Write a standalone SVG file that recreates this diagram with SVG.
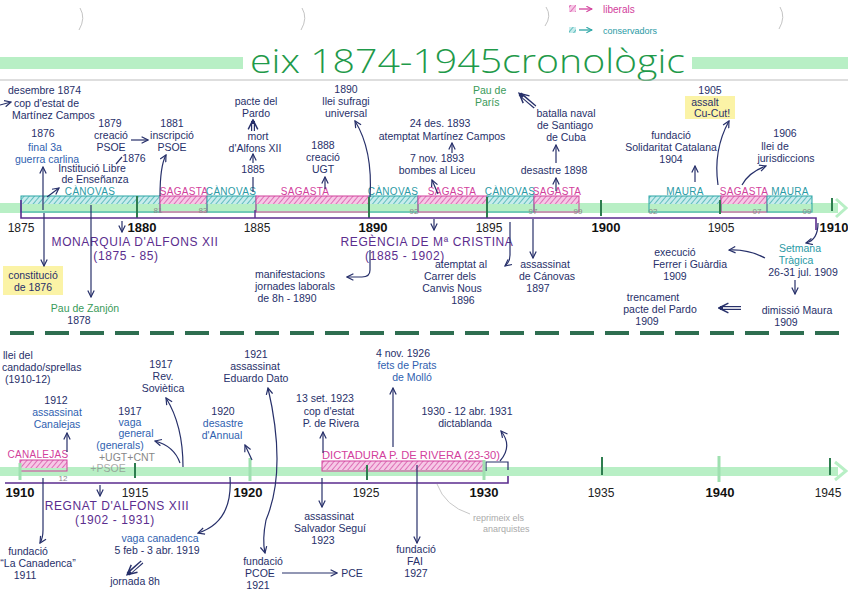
<svg xmlns="http://www.w3.org/2000/svg" width="848" height="599" viewBox="0 0 848 599">
<defs>
<style>
text{font-family:"Liberation Sans","DejaVu Sans",sans-serif;}
.n{font-size:10.5px;fill:#27306a}
.nc{font-size:10.5px;fill:#27306a;text-anchor:middle}
.yr{font-size:12px;fill:#222;text-anchor:middle}
.yb{font-size:13px;font-weight:bold;fill:#111;text-anchor:middle}
.pu{font-size:12px;fill:#5b2d8e;text-anchor:middle;letter-spacing:0.6px}
.pl{font-size:10px;text-anchor:middle;letter-spacing:0.3px}
.sm{font-size:8px;fill:#8a8a8a;text-anchor:middle}
.bl{fill:#2f5fb0}
.gr{fill:#3a9a5a}
.tl{fill:#2a9aa5}
.pk{fill:#d2409c}
.gy{fill:#888}
.c{fill:none;stroke:#27306a;stroke-width:1.2;marker-end:url(#a)}
.l{fill:none;stroke:#27306a;stroke-width:1.2}
.d{fill:none;stroke:#27306a;stroke-width:4;marker-end:url(#a2)}
.dw{fill:none;stroke:#fff;stroke-width:1.6}
.tk{stroke:#2e7d4f;stroke-width:2}
.tkl{stroke:#9fe0b0;stroke-width:3}
.ax{fill:none;stroke:#5b2d8e;stroke-width:1.6}
.band{fill:#b8efc5}
.bt{fill:none;stroke:#2aa5a5;stroke-width:1}
.bp{fill:none;stroke:#d2409c;stroke-width:1}
</style>
<pattern id="ht" width="4" height="4" patternUnits="userSpaceOnUse" patternTransform="rotate(40)"><rect width="4" height="4" fill="#c7ecec"/><line x1="0" y1="0" x2="0" y2="4" stroke="#2aa5a5" stroke-width="1.3"/></pattern>
<pattern id="hp" width="4" height="4" patternUnits="userSpaceOnUse" patternTransform="rotate(40)"><rect width="4" height="4" fill="#f6c8e6"/><line x1="0" y1="0" x2="0" y2="4" stroke="#d2409c" stroke-width="1.3"/></pattern>
<marker id="a" viewBox="0 0 10 10" refX="9" refY="5" markerWidth="8" markerHeight="8" markerUnits="userSpaceOnUse" orient="auto"><path d="M1,1 L9,5 L1,9" fill="none" stroke="#27306a" stroke-width="1.5"/></marker>
<marker id="a2" viewBox="0 0 10 10" refX="8" refY="5" markerWidth="12" markerHeight="12" markerUnits="userSpaceOnUse" orient="auto"><path d="M1,1 L9,5 L1,9" fill="none" stroke="#27306a" stroke-width="1.2"/></marker>
<marker id="ap" viewBox="0 0 10 10" refX="9" refY="5" markerWidth="7" markerHeight="7" markerUnits="userSpaceOnUse" orient="auto"><path d="M1,1 L9,5 L1,9" fill="none" stroke="#d2409c" stroke-width="1.5"/></marker>
<marker id="at" viewBox="0 0 10 10" refX="9" refY="5" markerWidth="7" markerHeight="7" markerUnits="userSpaceOnUse" orient="auto"><path d="M1,1 L9,5 L1,9" fill="none" stroke="#2aa5a5" stroke-width="1.5"/></marker>
</defs>

<rect width="848" height="599" fill="#fff"/>

<!-- punch hole marks -->
<g id="marks" fill="none" stroke="#c4c4c4" stroke-width="1">
<path d="M80,8 Q86,18 79,30"/><path d="M302,8 Q308,18 301,30"/><path d="M546,7 Q552,16 545,26"/><path d="M780,7 Q786,17 779,29"/>
</g>

<!-- legend -->
<g id="legend">
<rect x="569" y="5" width="7" height="7" fill="url(#hp)"/>
<path d="M579,9 L592,9" fill="none" stroke="#d2409c" stroke-width="1.3" marker-end="url(#ap)"/>
<text x="603" y="13" font-size="10" class="pk">liberals</text>
<rect x="569" y="27" width="7" height="6" fill="url(#ht)"/>
<path d="M579,30 L592,30" fill="none" stroke="#2aa5a5" stroke-width="1.3" marker-end="url(#at)"/>
<text x="603" y="34" font-size="9" class="tl">conservadors</text>
</g>

<!-- title -->
<g id="title">
<rect x="0" y="57" width="243" height="12" class="band"/>
<rect x="692" y="57" width="156" height="12" class="band"/>
<text x="250" y="73" font-size="33" fill="#1f9a4a" style="font-family:'Open Sans','Liberation Sans',sans-serif;font-weight:300" textLength="435" lengthAdjust="spacingAndGlyphs">eix 1874-1945cronològic</text>
<line x1="0" y1="80" x2="848" y2="80" stroke="#bdbdbd" stroke-width="1"/>
</g>

<!-- TOP TIMELINE -->
<g id="axis-top">
<rect x="0" y="203" width="838" height="10" class="band"/>
<path d="M836,199 L846,208 L836,217" fill="none" stroke="#b8efc5" stroke-width="3"/>
<rect x="21" y="196" width="139" height="8" fill="url(#ht)"/><rect x="21" y="196" width="139" height="16" class="bt"/>
<rect x="160" y="196" width="47" height="8" fill="url(#hp)"/><rect x="160" y="196" width="47" height="16" class="bp"/>
<rect x="207" y="196" width="49" height="8" fill="url(#ht)"/><rect x="207" y="196" width="49" height="16" class="bt"/>
<rect x="256" y="196" width="113" height="8" fill="url(#hp)"/><rect x="256" y="196" width="113" height="16" class="bp"/>
<rect x="369" y="196" width="49" height="8" fill="url(#ht)"/><rect x="369" y="196" width="49" height="16" class="bt"/>
<rect x="418" y="196" width="69" height="8" fill="url(#hp)"/><rect x="418" y="196" width="69" height="16" class="bp"/>
<rect x="487" y="196" width="47" height="8" fill="url(#ht)"/><rect x="487" y="196" width="47" height="16" class="bt"/>
<rect x="534" y="196" width="45" height="8" fill="url(#hp)"/><rect x="534" y="196" width="45" height="16" class="bp"/>
<rect x="649" y="196" width="72" height="8" fill="url(#ht)"/><rect x="649" y="196" width="72" height="16" class="bt"/>
<rect x="721" y="196" width="46" height="8" fill="url(#hp)"/><rect x="721" y="196" width="46" height="16" class="bp"/>
<rect x="767" y="196" width="45" height="8" fill="url(#ht)"/><rect x="767" y="196" width="45" height="16" class="bt"/>
<text x="90" y="195" class="pl tl">CÀNOVAS</text>
<text x="184" y="195" class="pl pk">SAGASTA</text>
<text x="231" y="195" class="pl tl">CÀNOVAS</text>
<text x="305" y="195" class="pl pk">SAGASTA</text>
<text x="393" y="195" class="pl tl">CÀNOVAS</text>
<text x="452" y="195" class="pl pk">SAGASTA</text>
<text x="510" y="195" class="pl tl">CÀNOVAS</text>
<text x="557" y="195" class="pl pk">SAGASTA</text>
<text x="685" y="195" class="pl tl">MAURA</text>
<text x="744" y="195" class="pl pk">SAGASTA</text>
<text x="790" y="195" class="pl tl">MAURA</text>
<text x="158" y="213" class="sm">81</text>
<text x="203" y="213" class="sm">83</text>
<text x="414" y="214" class="sm">92</text>
<text x="533" y="214" class="sm">97</text>
<text x="578" y="214" class="sm">99</text>
<text x="653" y="214" class="sm">02</text>
<text x="757" y="214" class="sm">07</text>
<text x="807" y="214" class="sm">09</text>
<line x1="137" y1="196" x2="137" y2="218" class="tk"/>
<line x1="369" y1="197" x2="369" y2="218" class="tk"/>
<line x1="487" y1="197" x2="487" y2="218" class="tk"/>
<line x1="601" y1="200" x2="601" y2="216" class="tk"/>
<line x1="720" y1="200" x2="720" y2="214" class="tk"/>
<line x1="832" y1="198" x2="832" y2="211" class="tk"/>
<path d="M21,200 L21,218 L816,218 L816,230" class="ax"/>
<line x1="255" y1="210" x2="255" y2="218" stroke="#5b2d8e" stroke-width="1.4"/>
<text x="21" y="232" class="yr">1875</text>
<text x="142" y="232" class="yb">1880</text>
<text x="257" y="232" class="yr">1885</text>
<text x="373" y="232" class="yb">1890</text>
<text x="489" y="232" class="yr">1895</text>
<text x="606" y="232" class="yb">1900</text>
<text x="721" y="232" class="yr">1905</text>
<text x="834" y="232" class="yb">1910</text>
<text x="135" y="246" class="pu">MONARQUIA D'ALFONS XII</text>
<text x="126" y="260" class="pu">(1875 - 85)</text>
<text x="427" y="246" class="pu">REGÈNCIA DE Mª CRISTINA</text>
<text x="405" y="260" class="pu">(1885 - 1902)</text>
</g>

<g id="e1874">
<text x="8" y="94" class="n">desembre 1874</text>
<text x="14" y="107" class="n">cop d'estat de</text>
<text x="12" y="119" class="n">Martínez Campos</text>
</g>
<g id="e1876-carlina">
<text x="43" y="137" class="nc">1876</text>
<text x="45" y="151" class="nc bl">final 3a</text>
<text x="47" y="163" class="nc bl">guerra carlina</text>
</g>
<g id="e1879">
<text x="110" y="127" class="nc">1879</text>
<text x="111" y="139" class="nc">creació</text>
<text x="111" y="151" class="nc">PSOE</text>
</g>
<g id="e1881">
<text x="172" y="127" class="nc">1881</text>
<text x="172" y="139" class="nc">inscripció</text>
<text x="172" y="151" class="nc">PSOE</text>
</g>
<g id="e1876-ile">
<text x="134" y="162" class="nc">1876</text>
<text x="92" y="172" class="nc">Institució Libre</text>
<text x="95" y="183" class="nc">de Enseñanza</text>
</g>
<g id="e1885">
<text x="256" y="105" class="nc">pacte del</text>
<text x="256" y="117" class="nc">Pardo</text>
<text x="258" y="140" class="nc">mort</text>
<text x="255" y="152" class="nc">d'Alfons XII</text>
<text x="253" y="173" class="nc">1885</text>
</g>
<g id="e1890">
<text x="346" y="93" class="nc">1890</text>
<text x="346" y="105" class="nc">llei sufragi</text>
<text x="346" y="117" class="nc">universal</text>
</g>
<g id="e1888">
<text x="323" y="149" class="nc">1888</text>
<text x="323" y="161" class="nc">creació</text>
<text x="323" y="173" class="nc">UGT</text>
</g>
<g id="e1893a">
<text x="440" y="127" class="nc">24 des. 1893</text>
<text x="442" y="140" class="nc">atemptat Martínez Campos</text>
</g>
<g id="e1893b">
<text x="437" y="162" class="nc">7 nov. 1893</text>
<text x="437" y="174" class="nc">bombes al Liceu</text>
</g>
<g id="e1898">
<text x="473" y="94" class="n gr">Pau de</text>
<text x="475" y="106" class="n gr">París</text>
<text x="566" y="117" class="nc">batalla naval</text>
<text x="565" y="129" class="nc">de Santiago</text>
<text x="566" y="141" class="nc">de Cuba</text>
<text x="554" y="174" class="nc">desastre 1898</text>
</g>
<g id="e1905">
<rect x="685" y="96" width="50" height="23" fill="#fbf3a6"/>
<text x="710" y="94" class="nc">1905</text>
<text x="705" y="106" class="nc">assalt</text>
<text x="712" y="117" class="nc">Cu-Cut!</text>
</g>
<g id="e1904">
<text x="671" y="139" class="nc">fundació</text>
<text x="671" y="151" class="nc">Solidaritat Catalana</text>
<text x="671" y="163" class="nc">1904</text>
</g>
<g id="e1906">
<text x="785" y="137" class="nc">1906</text>
<text x="775" y="150" class="nc">llei de</text>
<text x="786" y="162" class="nc">jurisdiccions</text>
</g>
<g id="e1876-const">
<rect x="3" y="266" width="60" height="29" fill="#fbf3a6"/>
<text x="33" y="279" class="nc">constitució</text>
<text x="33" y="291" class="nc">de 1876</text>
</g>
<g id="e1878">
<text x="85" y="312" class="nc gr">Pau de Zanjón</text>
<text x="79" y="324" class="nc">1878</text>
</g>
<g id="e1890-8h">
<text x="290" y="278" class="nc">manifestacions</text>
<text x="295" y="290" class="nc">jornades laborals</text>
<text x="287" y="302" class="nc">de 8h - 1890</text>
</g>
<g id="e1896">
<text x="461" y="268" class="nc">atemptat al</text>
<text x="450" y="280" class="nc">Carrer dels</text>
<text x="452" y="292" class="nc">Canvis Nous</text>
<text x="463" y="304" class="nc">1896</text>
</g>
<g id="e1897">
<text x="545" y="268" class="nc">assassinat</text>
<text x="547" y="280" class="nc">de Cánovas</text>
<text x="538" y="292" class="nc">1897</text>
</g>
<g id="e1909">
<text x="800" y="252" class="nc tl">Setmana</text>
<text x="796" y="264" class="nc tl">Tràgica</text>
<text x="803" y="276" class="nc">26-31 jul. 1909</text>
</g>
<g id="e1909-ferrer">
<text x="675" y="256" class="nc">execució</text>
<text x="690" y="268" class="nc">Ferrer i Guàrdia</text>
<text x="675" y="280" class="nc">1909</text>
</g>
<g id="e1909-maura">
<text x="797" y="314" class="nc">dimissió Maura</text>
<text x="786" y="326" class="nc">1909</text>
</g>
<g id="e1909-pardo">
<text x="653" y="301" class="nc">trencament</text>
<text x="660" y="313" class="nc">pacte del Pardo</text>
<text x="647" y="325" class="nc">1909</text>
</g>

<!-- separator -->
<line x1="10" y1="333" x2="848" y2="333" stroke="#2e6e50" stroke-width="4" stroke-dasharray="24 11"/>

<!-- BOTTOM TIMELINE -->
<g id="axis-bottom">
<rect x="0" y="467" width="838" height="9" class="band"/>
<path d="M835,462 L846,471 L835,480" fill="none" stroke="#b8efc5" stroke-width="3"/>
<rect x="20" y="460" width="47" height="8" fill="url(#hp)"/><rect x="20" y="460" width="47" height="11" class="bp"/>
<text x="38" y="458" class="pl pk">CANALEJAS</text>
<text x="63" y="481" class="sm">12</text>
<rect x="322" y="461" width="162" height="9" fill="url(#hp)"/><rect x="322" y="461" width="162" height="10" class="bp"/>
<text x="322" y="459" class="pk" font-size="10" textLength="178" lengthAdjust="spacingAndGlyphs">DICTADURA P. DE RIVERA (23-30)</text>
<path d="M486,471 L486,462 L508,462 L508,470" class="l"/>
<line x1="20" y1="463" x2="20" y2="480" class="tkl"/>
<line x1="135" y1="463" x2="135" y2="478" class="tk"/>
<line x1="250" y1="458" x2="250" y2="481" class="tkl"/>
<line x1="367" y1="465" x2="367" y2="480" class="tk"/>
<line x1="484" y1="460" x2="484" y2="480" class="tkl"/>
<line x1="602" y1="457" x2="602" y2="475" class="tk"/>
<line x1="719" y1="456" x2="719" y2="482" class="tkl"/>
<line x1="830" y1="458" x2="830" y2="475" class="tk"/>
<path d="M5,483 L508,483 L508,476" class="ax"/>
<text x="20" y="497" class="yb">1910</text>
<text x="135" y="497" class="yr">1915</text>
<text x="248" y="497" class="yb">1920</text>
<text x="366" y="497" class="yr">1925</text>
<text x="484" y="497" class="yb">1930</text>
<text x="601" y="497" class="yr">1935</text>
<text x="720" y="497" class="yb">1940</text>
<text x="828" y="497" class="yr">1945</text>
<text x="117" y="510" class="pu">REGNAT D'ALFONS XIII</text>
<text x="115" y="524" class="pu">(1902 - 1931)</text>
</g>

<g id="e1910">
<text x="3" y="359" class="n">llei del</text>
<text x="2" y="371" class="n">candado/sprellas</text>
<text x="5" y="383" class="n">(1910-12)</text>
</g>
<g id="e1912">
<text x="56" y="404" class="nc">1912</text>
<text x="57" y="416" class="nc bl">assassinat</text>
<text x="57" y="428" class="nc bl">Canalejas</text>
</g>
<g id="e1917-rev">
<text x="161" y="368" class="nc">1917</text>
<text x="163" y="380" class="nc">Rev.</text>
<text x="163" y="392" class="nc">Soviètica</text>
</g>
<g id="e1917-vaga">
<text x="130" y="415" class="nc">1917</text>
<text x="130" y="426" class="nc bl">vaga</text>
<text x="136" y="437" class="nc bl">general</text>
<text x="120" y="449" class="nc bl">(generals)</text>
<text x="127" y="461" class="nc gy">+UGT+CNT</text>
<text x="108" y="472" class="nc gy" opacity="0.7">+PSOE</text>
</g>
<g id="e1920">
<text x="223" y="415" class="nc">1920</text>
<text x="223" y="427" class="nc bl">desastre</text>
<text x="222" y="439" class="nc bl">d'Annual</text>
</g>
<g id="e1921">
<text x="256" y="358" class="nc">1921</text>
<text x="255" y="370" class="nc">assassinat</text>
<text x="256" y="382" class="nc">Eduardo Dato</text>
</g>
<g id="e1921-pcoe">
<text x="263" y="565" class="nc">fundació</text>
<text x="260" y="577" class="nc">PCOE</text>
<text x="258" y="589" class="nc">1921</text>
<text x="352" y="577" class="nc">PCE</text>
</g>
<g id="e1926">
<text x="403" y="357" class="nc">4 nov. 1926</text>
<text x="407" y="369" class="nc bl">fets de Prats</text>
<text x="412" y="381" class="nc bl">de Molló</text>
</g>
<g id="e1923">
<text x="325" y="402" class="nc">13 set. 1923</text>
<text x="329" y="415" class="nc">cop d'estat</text>
<text x="331" y="427" class="nc">P. de Rivera</text>
</g>
<g id="e1930">
<text x="467" y="415" class="nc">1930 - 12 abr. 1931</text>
<text x="465" y="427" class="nc">dictablanda</text>
</g>
<g id="e1923-segui">
<text x="329" y="520" class="nc">assassinat</text>
<text x="330" y="532" class="nc">Salvador Seguí</text>
<text x="323" y="544" class="nc">1923</text>
</g>
<g id="e1927">
<text x="416" y="553" class="nc">fundació</text>
<text x="415" y="565" class="nc">FAI</text>
<text x="416" y="577" class="nc">1927</text>
</g>
<g id="e-anarquistes">
<path d="M437,484 Q445,506 470,514" fill="none" stroke="#c8c8c8" stroke-width="1"/>
<text x="473" y="521" font-size="9" fill="#aaa">reprimeix els</text>
<text x="483" y="532" font-size="9" fill="#aaa">anarquistes</text>
</g>
<g id="e1911">
<text x="28" y="555" class="nc">fundació</text>
<text x="38" y="567" class="nc">“La Canadenca”</text>
<text x="25" y="579" class="nc">1911</text>
</g>
<g id="e1919">
<text x="160" y="542" class="nc bl">vaga canadenca</text>
<text x="157" y="554" class="nc">5 feb - 3 abr. 1919</text>
<text x="135" y="585" class="nc">jornada 8h</text>
</g>

<!-- CONNECTORS -->
<g id="connectors">
<path d="M0,105 L11,102" class="c"/>
<path d="M43,210 L43,167" class="c"/>
<path d="M131,140 L148,140" class="c"/>
<path d="M160,196 Q160,166 166,155" class="c"/>
<path d="M116,164 L122,157" class="l"/>
<path d="M47,197 L59,188" class="c"/>
<path d="M253,131 L253,121" class="d"/><path d="M253,131 L253,124" class="dw"/>
<path d="M253,163 L253,154" class="c"/>
<path d="M253,177 L253,192" class="l"/>
<path d="M370,197 Q373,150 355,121" class="c"/>
<path d="M325,189 L325,177" class="c"/>
<path d="M452,153 L452,143" class="c"/>
<path d="M438,194 L432,180" class="c"/>
<path d="M535,107 L520,94" class="d"/><path d="M535,107 L523,97" class="dw"/>
<path d="M556,163 L556,145" class="c"/>
<path d="M556,191 L556,178" class="c"/>
<path d="M718,185 Q713,150 729,121" class="c"/>
<path d="M695,182 L695,166" class="c"/>
<path d="M742,185 Q749,172 766,166" class="c"/>
<path d="M122,221 L122,232" class="c"/>
<path d="M44,213 L44,266" class="c"/>
<path d="M91,205 L91,297" class="c"/>
<path d="M370,250 L370,270 Q370,277 362,277 L347,277" class="c"/>
<path d="M434,219 L434,230" class="c"/>
<path d="M510,222 L510,255 Q510,262 505,266" class="c"/>
<path d="M533,219 L533,258" class="c"/>
<path d="M818,223 Q818,240 806,243" class="c"/>
<path d="M765,258 Q748,249 729,250" class="c"/>
<path d="M795,280 L795,294" class="c"/>
<path d="M741,308 L720,308" class="d"/><path d="M741,308 L723,308" class="dw"/>
<path d="M67,452 L67,433" class="c"/>
<path d="M183,467 Q183,425 166,398" class="c"/>
<path d="M180,463 Q174,446 155,441" class="c"/>
<path d="M252,460 L245,445" class="c"/>
<path d="M266,520 Q287,470 268,388" class="c"/>
<path d="M266,520 Q262,540 265,553" class="c"/>
<path d="M282,573 L337,573" class="c"/>
<path d="M393,447 L393,388" class="c"/>
<path d="M323,453 L323,432" class="c"/>
<path d="M500,461 Q513,446 501,431" class="c"/>
<path d="M322,478 L322,507" class="c"/>
<path d="M417,465 L417,543" class="c"/>
<path d="M100,485 L100,496" class="c"/>
<path d="M43,478 L43,530 Q43,538 40,543" class="c"/>
<path d="M230,477 Q233,522 198,533" class="c"/>
<path d="M142,562 L128,574" class="d"/><path d="M142,562 L131,572" class="dw"/>
</g>
</svg>
